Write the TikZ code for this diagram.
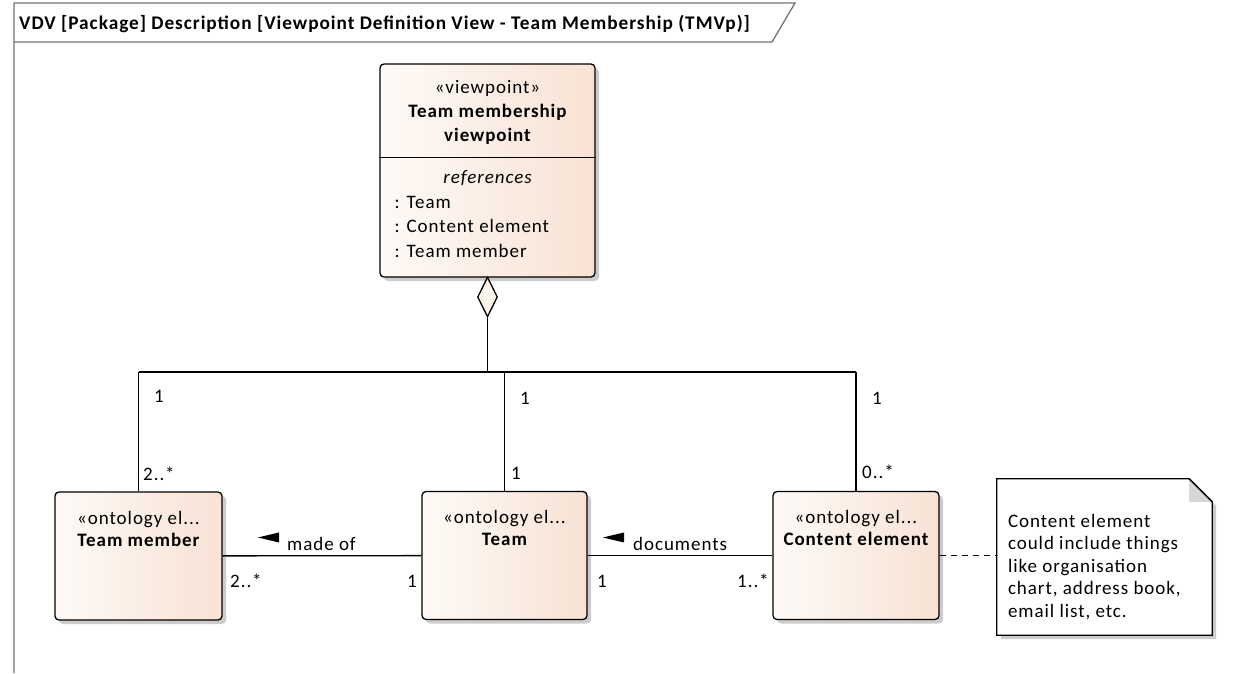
\documentclass[tikz,border=0pt]{standalone}
\usepackage{fontspec}
\setmainfont{Carlito}[LetterSpace=5]
\usetikzlibrary{calc,positioning,shapes.geometric,shadows}
\definecolor{peach}{RGB}{248,226,212}
\definecolor{peachlight}{RGB}{254,250,247}
\definecolor{cream}{RGB}{252,243,234}
\definecolor{foldgray}{RGB}{214,214,214}
\tikzset{
    element/.style={
    rectangle,rounded corners=4pt,draw=black,line width=1.3pt,
    left color=peachlight,right color=peach,inner sep=0pt,
    drop shadow={shadow xshift=4pt,shadow yshift=-4pt,fill=black!20,opacity=1}
    },
    agg/.style={
    diamond,draw=black,fill=cream,line width=1.3pt,inner sep=0pt,
    minimum width=20,minimum height=40
    },
    txt/.style={
    inner sep=0pt,font=\fontsize{19}{22.5}\selectfont
    },
    heading/.style={
    inner sep=0pt,font=\fontsize{19}{22.5}\selectfont\bfseries
    },
    mult/.style={
    txt,anchor=base west
    },
    frame/.style={
    draw=black!55,line width=1.3pt
    },
    assoc/.style={
    draw=black,line width=1.3pt
    },
}

\begin{document}
\begin{tikzpicture}[x=1pt,y=-1pt]
   \useasboundingbox (0,0) rectangle (1242,673);
   \draw[frame] (14,673) -- (14,3) -- (795,3) -- (772,42) -- (14,42);
   \node[heading,font=\fontsize{19.3}{22.5}\selectfont\bfseries,anchor=base west] (title) at (19,29) {VDV [Package] Description [Viewpoint Definition View - Team Membership (TMVp)]};

   % viewpoint
   \node[element,minimum width=215,minimum height=213] (VP) at (487.5,170.5) {};
   \node[txt,below=30pt of VP.north,anchor=base] (VPs) {«viewpoint»};
   \node[heading,below=54pt of VP.north,anchor=base] (VPn1) {Team membership};
   \node[heading,below=78pt of VP.north,anchor=base] (VPn2) {viewpoint};
   \draw[line width=1.3pt] ($(VP.north west)+(0,94)$) -- ($(VP.north east)+(0,94)$);
   \node[txt,below=120pt of VP.north,anchor=base] (VPr) {\itshape references};
   \node[txt,anchor=base west] (VPa1) at ($(VP.north west)+(15,145)$) {: Team};
   \node[txt,anchor=base west] (VPa2) at ($(VP.north west)+(15,169.5)$) {: Content element};
   \node[txt,anchor=base west] (VPa3) at ($(VP.north west)+(15,194)$) {: Team member};
   \node[agg] (agg) at (487.5,297) {};
   \coordinate (bus) at (487.5,372);

   % ontology elements
   \node[element,minimum width=167,minimum height=128] (TM) at (138.5,556) {};
   \node[txt,below=33pt of TM.north,anchor=base] (TMs) {«ontology el...};
   \node[heading,below=55pt of TM.north,anchor=base] (TMn) {Team member};

   \node[element,minimum width=165,minimum height=128] (T) at (504.5,555.5) {};
   \node[txt,below=33pt of T.north,anchor=base] (Ts) {«ontology el...};
   \node[heading,below=55pt of T.north,anchor=base] (Tn) {Team};

   \node[element,minimum width=166,minimum height=128] (CE) at (856,555.5) {};
   \node[txt,below=33pt of CE.north,anchor=base] (CEs) {«ontology el...};
   \node[heading,below=55pt of CE.north,anchor=base] (CEn) {Content element};

   % note
   \node[minimum width=215,minimum height=156,inner sep=0pt] (N) at (1104.5,557) {};
   \draw[line width=1.3pt,fill=white,drop shadow={shadow xshift=4pt,shadow yshift=-4pt,fill=black!20,opacity=1}]
     (N.north west) -- ($(N.north east)+(-23,0)$) -- ($(N.north east)+(0,23)$)
     -- (N.south east) -- (N.south west) -- cycle;
   \fill[foldgray] ($(N.north east)+(-23,0)$) -- ($(N.north east)+(0,23)$) -- ($(N.north east)+(-23,23)$) -- cycle;
   \draw[line width=1.3pt] ($(N.north east)+(-23,0)$) -- ($(N.north east)+(0,23)$);
   \node[txt,align=left,anchor=north west] (Nt) at ($(N.north west)+(11,35)$)
     {Content element\\could include things\\like organisation\\chart, address book,\\email list, etc.};

   % connectors
   \path[assoc]
     (agg.south) edge (bus)
     (TM.north) edge (TM.north |- bus)
     (T.north) edge (T.north |- bus)
     (CE.north) edge (CE.north |- bus)
     (TM.north |- bus) edge (CE.north |- bus)
     (TM) edge (T)
     (T) edge (CE);
   \draw[assoc,dashed,dash pattern=on 6pt off 5pt] (CE.east) -- (CE.east -| N.west);

   % labels
   \node[mult] (m1) at (154,402) {1};
   \node[mult] (m2) at (143,480) {2..*};
   \node[mult] (m3) at (520,404) {1};
   \node[mult] (m4) at (511,479) {1};
   \node[mult] (m5) at (872,404) {1};
   \node[mult] (m6) at (862,478) {0..*};
   \node[mult] (m7) at (230,587) {2..*};
   \node[mult] (m8) at (407,587) {1};
   \node[mult] (m9) at (597,587) {1};
   \node[mult] (m10) at (737,587) {1..*};
   \node[mult] (madeof) at (287,550) {made of};
   \node[mult] (docs) at (633,550) {documents};
   \fill ($(madeof.west)+(-29,-6)$) -- ($(madeof.west)+(-8,-11)$) -- ($(madeof.west)+(-8,-1)$) -- cycle;
   \fill ($(docs.west)+(-30,-6)$) -- ($(docs.west)+(-9,-11)$) -- ($(docs.west)+(-9,-1)$) -- cycle;
\end{tikzpicture}
\end{document}
